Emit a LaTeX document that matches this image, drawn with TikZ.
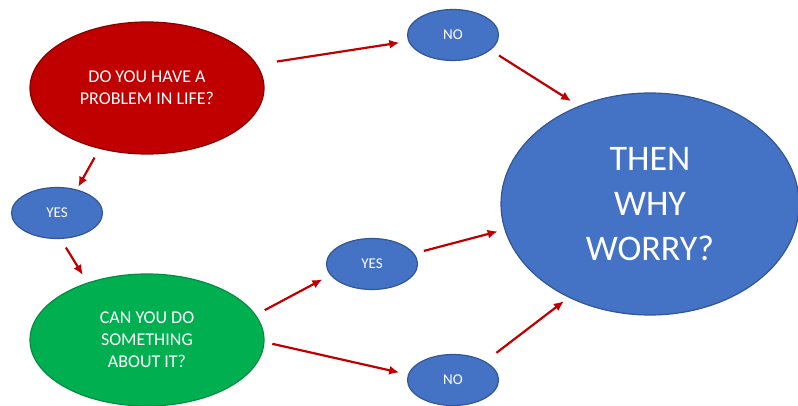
\documentclass[tikz,border=0pt]{standalone}
\usepackage{fontspec}
\setmainfont{Carlito}
\usepackage{xcolor}
\usepackage{tikz}
\usetikzlibrary{shapes, arrows.meta, positioning, calc}

\definecolor{qred}{HTML}{C00000}
\definecolor{qblue}{HTML}{4472C4}
\definecolor{qgreen}{HTML}{00B050}

\begin{document}
\begin{tikzpicture}[x=1pt, y=-1pt,
  bubble/.style={ellipse, inner sep=0pt, line width=1.2pt, text=white, align=center},
  answer/.style={bubble, fill=qblue, draw=qblue!75!black, minimum width=91pt, minimum height=51pt, font=\fontsize{15}{18}\selectfont},
  flow/.style={draw=qred, line width=2.2pt, -{Latex[length=10pt,width=9pt]}, shorten <=10pt, shorten >=9pt}]
\useasboundingbox (0,0) rectangle (798,406);

% Questions
\node[bubble, fill=qred, draw=qred!70!black, minimum width=234pt, minimum height=132pt,
  font=\fontsize{18}{22}\selectfont] (problem) at (147,88) {DO YOU HAVE A\\PROBLEM IN LIFE?};
\node[bubble, fill=qgreen, draw=qgreen!80!black, minimum width=234pt, minimum height=132pt,
  font=\fontsize{18}{22}\selectfont] (cando) at (147,340) {CAN YOU DO\\SOMETHING\\ABOUT IT?};

% Answers
\node[answer] (notop) at (453,35) {NO};
\node[answer] (yesleft) at (57,213) {YES};
\node[answer] (yesmid) at (372,264) {YES};
\node[answer] (nobot) at (453,380) {NO};

% Conclusion
\node[bubble, fill=qblue, draw=qblue!75!black, minimum width=298pt, minimum height=222pt,
  font=\fontsize{36}{45}\selectfont] (worry) at (650,204) {THEN\\WHY\\WORRY?};

% Arrows
\draw[flow, shorten <=20pt] (problem.12) -- (notop.188);
\draw[flow] (notop.-22) -- (worry.126);
\draw[flow, shorten >=3pt] (problem.232) -- (yesleft.50);
\draw[flow] (yesleft.-82) -- (cando.136);
\draw[flow] (cando.13) -- (yesmid.195);
\draw[flow, shorten >=7pt] (yesmid.14) -- (worry.190);
\draw[flow, shorten <=8pt] (cando.-1) -- (nobot.173);
\draw[flow, shorten <=14pt, shorten >=6pt] (nobot.30) -- (worry.229);
\end{tikzpicture}
\end{document}
